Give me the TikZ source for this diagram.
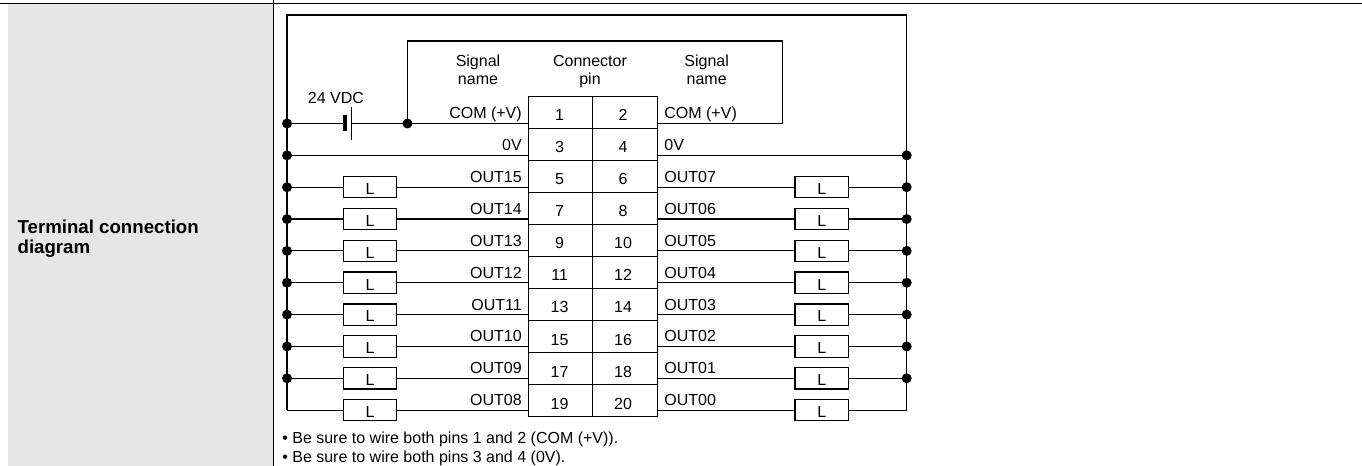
\documentclass[tikz,border=0pt]{standalone}
\usepackage{fontspec}
\setmainfont{Liberation Sans}
\usetikzlibrary{calc}

\definecolor{labelgray}{RGB}{230,230,230}

\begin{document}
\begin{tikzpicture}[x=0.75pt, y=-0.75pt, line width=0.9pt,
  every node/.style={font=\fontsize{12}{14}\selectfont, inner sep=0pt},
  lamp/.style={draw, fill=white, minimum width=40pt, minimum height=16pt, text height=11pt, text depth=0pt}]

\useasboundingbox (0,0) rectangle (1362,466);

%\draw[help lines, step=20] (0,0) grid (1362,466);

% table cell
\fill[labelgray] (8.3,4) rectangle (272.5,466);
\draw[line width=1.1pt] (0,3.3) -- (1362,3.3);
\draw[line width=1.2pt] (273.5,0) -- (273.5,466);

\node[anchor=base west, font=\fontsize{14}{15}\selectfont\bfseries] (title1) at (17,233.3) {Terminal connection};
\node[anchor=base west, font=\fontsize{14}{15}\selectfont\bfseries] (title2) at (17,253.3) {diagram};

% wire rows
\foreach \i in {0,...,9} {
  \pgfmathsetmacro\y{123.5+31.85*\i}
  \coordinate (bl\i) at (287,\y);
  \coordinate (wl\i) at (528.3,\y);
  \coordinate (wr\i) at (657.3,\y);
  \coordinate (br\i) at (906.7,\y);
}

% connector
\draw[line width=1pt] (528.3,96.3) rectangle (657.3,416.5);
\draw (592.7,96.3) -- (592.7,416.5);
\foreach \i in {1,...,9}
  \draw (528.3,96.3+32*\i) -- (657.3,96.3+32*\i);

\foreach \i in {0,...,9} {
  \pgfmathtruncatemacro\pa{2*\i+1}
  \pgfmathtruncatemacro\pb{2*\i+2}
  \node[anchor=base] (pin\pa) at (559.6,121+32*\i) {\pa};
  \node[anchor=base] (pin\pb) at (623,121+32*\i) {\pb};
}

% headings
\node[anchor=base] (headL1) at (478,66.7) {Signal};
\node[anchor=base] (headL2) at (478,85) {name};
\node[anchor=base] (headC1) at (590,66.7) {Connector};
\node[anchor=base] (headC2) at (590,85) {pin};
\node[anchor=base] (headR1) at (706.7,66.7) {Signal};
\node[anchor=base] (headR2) at (706.7,85) {name};

% signal names
\foreach \i/\sl/\sr in {0/COM (+V)/COM (+V), 1/0V/0V, 2/OUT15/OUT07, 3/OUT14/OUT06,
    4/OUT13/OUT05, 5/OUT12/OUT04, 6/OUT11/OUT03, 7/OUT10/OUT02, 8/OUT09/OUT01, 9/OUT08/OUT00} {
  \node[anchor=base east] (sigL\i) at ($(wl\i)+(-6,-4.5)$) {\sl};
  \node[anchor=base west] (sigR\i) at ($(wr\i)+(6.5,-4.5)$) {\sr};
}

% loads
\foreach \i in {2,...,9} {
  \node[lamp] (lampL\i) at (bl\i -| 370,0) {L};
  \node[lamp] (lampR\i) at (br\i -| 821.7,0) {L};
  \draw (bl\i) -- (lampL\i) -- (wl\i);
  \draw (wr\i) -- (lampR\i) -- (br\i);
}
\draw (bl1) -- (wl1);
\draw (wr1) -- (br1);

% 24 VDC supply
\coordinate (batneg) at (345.3,123.5);
\coordinate (batpos) at (351.7,123.5);
\coordinate (jct) at (407.5,123.5);
\coordinate (loopR) at (782.7,41);
\draw[line width=3pt] ($(batneg)+(0,-8)$) -- ($(batneg)+(0,8)$);
\draw[line width=1.1pt] ($(batpos)+(0,-16.8)$) -- ($(batpos)+(0,16.5)$);
\node[anchor=base] (vdc) at (336,103.3) {24 VDC};
\draw (bl0) -- (batneg);
\draw (batpos) -- (jct) -- (wl0);
\draw (wr0) -| (loopR) -| (jct);

% common buses
\coordinate (topL) at (287,15);
\coordinate (topR) at (906.7,15);
\draw (bl9) -- (topL) -- (topR) -- (br9);

\foreach \i in {0,...,8} \fill (bl\i) circle[radius=5];
\foreach \i in {1,...,8} \fill (br\i) circle[radius=5];
\fill (jct) circle[radius=5];

% notes
\node[anchor=base west] (note1) at (281.7,443.3) {\textbullet\ Be sure to wire both pins 1 and 2 (COM (+V)).};
\node[anchor=base west] (note2) at (281.7,462.7) {\textbullet\ Be sure to wire both pins 3 and 4 (0V).};

\end{tikzpicture}
\end{document}
